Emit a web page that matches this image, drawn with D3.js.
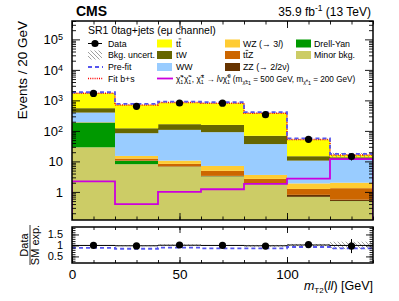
<!DOCTYPE html>
<html>
<head>
<meta charset="utf-8">
<script src="https://cdn.jsdelivr.net/npm/d3@7"></script>
<style>
  body { margin: 0; background: #fff; }
  text { font-family: "Liberation Sans", Arial, sans-serif; }
</style>
</head>
<body>
<div id="chart-area"></div>
<script>
// bin edges in mT2(ll) [GeV]
var edges = [0, 20, 40, 60, 80, 100, 120, 140];

// backgrounds (events / bin), stacked bottom -> top
var minorBkg = [29, 8.1, 6.6, 3.2, 1.8, 0.68, 0.5];
var drellYan = [158, 2.3, 0.1, 0.05, 0.02, 0.01, 0.005];
var zz       = [1.0, 0.2, 0.1, 0.1, 0.11, 0.11, 0.05];
var ttz      = [1.5, 1.8, 1.5, 1.55, 0.74, 0.45, 0.77];
var wz       = [3.5, 2.7, 2.3, 2.2, 0.93, 0.65, 0.68];
var ww       = [205, 68.9, 97.4, 83.9, 33.4, 8.7, 9.2];
var tw       = [157, 38, 58, 66, 32, 4.2, 2.5];
var ttbar    = [1167, 589, 681, 652, 311, 37.2, 2.6];

var dataObs  = [1690, 640, 820, 810, 340, 53, 14.5];
var preFit   = [1850, 770, 910, 870, 410, 57, 17.6];
var signal   = [2.2, 0.40, 1.0, 1.22, 1.83, 2.73, 11.8];
var bkgUnc   = [0.02, 0.02, 0.035, 0.02, 0.04, 0.05, 0.17];

// ratio panel
var ratioData = [1.0, 0.98, 1.02, 1.0, 0.97, 1.04, 0.97];
var ratioErr  = [0.025, 0.04, 0.035, 0.035, 0.055, 0.14, 0.32];
var ratioFit  = [1.0, 0.985, 1.01, 1.0, 0.985, 1.02, 1.0];
var ratioPre  = [0.89, 0.85, 0.90, 0.87, 0.87, 0.93, 0.87];

var yTicks = [1, 10, 100, 1000, 10000, 100000];
var xTicks = [0, 50, 100];
var rTicks = [0.5, 1, 1.5];

var keys = ['minor', 'dy', 'zz', 'ttz', 'wz', 'ww', 'tw', 'tt'];
var colors = {
  minor: '#cccc66', dy: '#009900', zz: '#663300', ttz: '#cc6600',
  wz: '#ffcc33', ww: '#99ccff', tw: '#666600', tt: '#ffff00'
};

var W = 399, H = 301;
var L = 72, R = 373, T = 21, B = 220;   // main pad
var rT = 227, rB = 263;                 // ratio pad

var svg = d3.select('#chart-area').append('svg')
  .attr('width', W).attr('height', H);

var x = d3.scaleLinear().domain([0, 140]).range([L, R]);
var y = d3.scaleLog().domain([0.12, 4e5]).range([B, T]);
var yr = d3.scaleLinear().domain([0.2, 1.84]).range([rB, rT]);

var defs = svg.append('defs');
defs.append('clipPath').attr('id', 'clipMain')
  .append('rect').attr('x', L).attr('y', T).attr('width', R - L).attr('height', B - T);
defs.append('clipPath').attr('id', 'clipRatio')
  .append('rect').attr('x', L).attr('y', rT).attr('width', R - L).attr('height', rB - rT);
var pat = defs.append('pattern').attr('id', 'hatch')
  .attr('patternUnits', 'userSpaceOnUse').attr('width', 4).attr('height', 4);
pat.append('path').attr('d', 'M-1,-1L5,5M-1,3L1,5M3,-1L5,1')
  .attr('stroke', '#888').attr('stroke-width', 0.8);

// table for stacking
var table = edges.slice(0, -1).map(function(e, i) {
  return {lo: e, hi: edges[i + 1], minor: minorBkg[i], dy: drellYan[i], zz: zz[i],
          ttz: ttz[i], wz: wz[i], ww: ww[i], tw: tw[i], tt: ttbar[i]};
});
var series = d3.stack().keys(keys)(table);
var total = table.map(function(d) { return d3.sum(keys, function(k) { return d[k]; }); });
var ymin = y.domain()[0];

var main = svg.append('g').attr('clip-path', 'url(#clipMain)');
series.forEach(function(s) {
  main.selectAll(null).data(s).enter().append('rect')
    .attr('x', function(d) { return x(d.data.lo); })
    .attr('width', function(d) { return x(d.data.hi) - x(d.data.lo) + 0.3; })
    .attr('y', function(d) { return y(Math.max(d[1], ymin)); })
    .attr('height', function(d) { return y(Math.max(d[0], ymin)) - y(Math.max(d[1], ymin)); })
    .attr('fill', colors[s.key]);
});

// bkg uncertainty band
main.selectAll(null).data(table).enter().append('rect')
  .attr('x', function(d) { return x(d.lo); })
  .attr('width', function(d) { return x(d.hi) - x(d.lo); })
  .attr('y', function(d, i) { return y(total[i] * (1 + bkgUnc[i])); })
  .attr('height', function(d, i) { return y(total[i] * (1 - bkgUnc[i])) - y(total[i] * (1 + bkgUnc[i])); })
  .attr('fill', 'url(#hatch)');

function stepPoints(vals, drop) {
  var pts = [];
  if (drop != null) pts.push([edges[0], drop]);
  vals.forEach(function(v, i) { pts.push([edges[i], v]); pts.push([edges[i + 1], v]); });
  if (drop != null) pts.push([edges[edges.length - 1], drop]);
  return pts;
}
var lineMain = d3.line().x(function(p) { return x(p[0]); }).y(function(p) { return y(Math.max(p[1], ymin)); });

main.append('path').attr('d', lineMain(stepPoints(signal, ymin)))
  .attr('fill', 'none').attr('stroke', '#cc00dd').attr('stroke-width', 1.8);
main.append('path').attr('d', lineMain(stepPoints(total)))
  .attr('fill', 'none').attr('stroke', '#ff0000').attr('stroke-width', 1.5).attr('stroke-dasharray', '1,1.2');
main.append('path').attr('d', lineMain(stepPoints(preFit)))
  .attr('fill', 'none').attr('stroke', '#5555ee').attr('stroke-width', 1.8).attr('stroke-dasharray', '4,3');

// data
var pts = main.selectAll(null).data(dataObs).enter().append('g');
pts.append('line')
  .attr('x1', function(d, i) { return x((edges[i] + edges[i + 1]) / 2); })
  .attr('x2', function(d, i) { return x((edges[i] + edges[i + 1]) / 2); })
  .attr('y1', function(d) { return y(d + Math.sqrt(d)); })
  .attr('y2', function(d) { return y(d - Math.sqrt(d)); })
  .attr('stroke', '#000').attr('stroke-width', 1);
pts.append('circle')
  .attr('cx', function(d, i) { return x((edges[i] + edges[i + 1]) / 2); })
  .attr('cy', function(d) { return y(d); })
  .attr('r', 3.6).attr('fill', '#000');

// ratio panel
var ratio = svg.append('g').attr('clip-path', 'url(#clipRatio)');
ratio.selectAll(null).data(table).enter().append('rect')
  .attr('x', function(d) { return x(d.lo); })
  .attr('width', function(d) { return x(d.hi) - x(d.lo); })
  .attr('y', function(d, i) { return yr(ratioFit[i] + bkgUnc[i]); })
  .attr('height', function(d, i) { return yr(ratioFit[i] - bkgUnc[i]) - yr(ratioFit[i] + bkgUnc[i]); })
  .attr('fill', 'url(#hatch)');
var lineRatio = d3.line().x(function(p) { return x(p[0]); }).y(function(p) { return yr(p[1]); });
ratio.append('path').attr('d', lineRatio(stepPoints(ratioFit)))
  .attr('fill', 'none').attr('stroke', '#000').attr('stroke-width', 1);
ratio.append('path').attr('d', lineRatio(stepPoints(ratioPre)))
  .attr('fill', 'none').attr('stroke', '#5555ee').attr('stroke-width', 1.8).attr('stroke-dasharray', '4,3');
var rp = ratio.selectAll(null).data(ratioData).enter().append('g');
rp.append('line')
  .attr('x1', function(d, i) { return x((edges[i] + edges[i + 1]) / 2); })
  .attr('x2', function(d, i) { return x((edges[i] + edges[i + 1]) / 2); })
  .attr('y1', function(d, i) { return yr(d + ratioErr[i]); })
  .attr('y2', function(d, i) { return yr(d - ratioErr[i]); })
  .attr('stroke', '#000').attr('stroke-width', 1);
rp.append('circle')
  .attr('cx', function(d, i) { return x((edges[i] + edges[i + 1]) / 2); })
  .attr('cy', function(d) { return yr(d); })
  .attr('r', 3.6).attr('fill', '#000');

// ticks (ROOT style, inward on all four sides)
function minorLog() {
  var v = [];
  for (var e = -1; e <= 5; e++) for (var m = 2; m <= 9; m++) {
    var t = m * Math.pow(10, e);
    if (t >= y.domain()[0] && t <= y.domain()[1]) v.push(t);
  }
  return v;
}
function tickGroup(axis, tx, ty) {
  var g = svg.append('g').attr('transform', 'translate(' + tx + ',' + ty + ')').call(axis);
  g.select('.domain').remove();
  g.selectAll('line').attr('stroke', '#000').attr('stroke-width', 0.9);
  return g;
}
var xMinor = d3.range(0, 141, 10);
// main pad
var yAxisMain = tickGroup(d3.axisLeft(y).tickValues(yTicks).tickSize(-8).tickPadding(9), L, 0);
tickGroup(d3.axisLeft(y).tickValues(minorLog()).tickSize(-4).tickFormat(''), L, 0);
tickGroup(d3.axisRight(y).tickValues(yTicks).tickSize(-8).tickFormat(''), R, 0);
tickGroup(d3.axisRight(y).tickValues(minorLog()).tickSize(-4).tickFormat(''), R, 0);
tickGroup(d3.axisBottom(x).tickValues(xTicks).tickSize(-7).tickFormat(''), 0, B);
tickGroup(d3.axisBottom(x).tickValues(xMinor).tickSize(-3.5).tickFormat(''), 0, B);
tickGroup(d3.axisTop(x).tickValues(xTicks).tickSize(-7).tickFormat(''), 0, T);
tickGroup(d3.axisTop(x).tickValues(xMinor).tickSize(-3.5).tickFormat(''), 0, T);
// ratio pad
var yAxisRatio = tickGroup(d3.axisLeft(yr).tickValues(rTicks).tickSize(-7).tickPadding(9)
  .tickFormat(function(d) { return d; }), L, 0);
tickGroup(d3.axisLeft(yr).tickValues(d3.range(0.3, 1.81, 0.1)).tickSize(-3.5).tickFormat(''), L, 0);
tickGroup(d3.axisRight(yr).tickValues(rTicks).tickSize(-7).tickFormat(''), R, 0);
tickGroup(d3.axisRight(yr).tickValues(d3.range(0.3, 1.81, 0.1)).tickSize(-3.5).tickFormat(''), R, 0);
var xAxisRatio = tickGroup(d3.axisBottom(x).tickValues(xTicks).tickSize(-6).tickPadding(6), 0, rB);
tickGroup(d3.axisBottom(x).tickValues(xMinor).tickSize(-3).tickFormat(''), 0, rB);
tickGroup(d3.axisTop(x).tickValues(xTicks).tickSize(-6).tickFormat(''), 0, rT);
tickGroup(d3.axisTop(x).tickValues(xMinor).tickSize(-3).tickFormat(''), 0, rT);

// tick labels
yAxisMain.selectAll('text')
  .attr('font-size', 13).attr('font-family', '"Liberation Sans", Arial, sans-serif').attr('fill', '#000')
  .each(function(d) {
    var t = d3.select(this);
    var e = Math.round(Math.log10(d));
    if (e >= 2) {
      t.text('10');
      t.append('tspan').attr('font-size', 9).attr('dy', '-0.45em').text(e);
    }
  });
yAxisRatio.selectAll('text').attr('font-size', 11).attr('fill', '#000')
  .attr('font-family', '"Liberation Sans", Arial, sans-serif');
xAxisRatio.selectAll('text').attr('font-size', 13.5).attr('fill', '#000')
  .attr('font-family', '"Liberation Sans", Arial, sans-serif').attr('dy', '0.71em');

// frames
svg.append('rect').attr('x', L).attr('y', T).attr('width', R - L).attr('height', B - T)
  .attr('fill', 'none').attr('stroke', '#000').attr('stroke-width', 1.5);
svg.append('rect').attr('x', L).attr('y', rT).attr('width', R - L).attr('height', rB - rT)
  .attr('fill', 'none').attr('stroke', '#000').attr('stroke-width', 1.5);

// titles
svg.append('text').attr('x', 76).attr('y', 16).attr('font-size', 14).attr('font-weight', 'bold').text('CMS');
var lumi = svg.append('text').attr('x', 371).attr('y', 16).attr('font-size', 12).attr('text-anchor', 'end');
lumi.append('tspan').text('35.9 fb');
lumi.append('tspan').attr('font-size', 8.5).attr('dy', -5).text('-1');
lumi.append('tspan').attr('dy', 5).text(' (13 TeV)');

svg.append('text').attr('transform', 'translate(27,' + T + ') rotate(-90)')
  .attr('text-anchor', 'end').attr('font-size', 13.5).text('Events / 20 GeV');

var xt = svg.append('text').attr('x', R).attr('y', 290).attr('font-size', 12.5).attr('text-anchor', 'end');
xt.append('tspan').attr('font-style', 'italic').text('m');
xt.append('tspan').attr('font-size', 8).attr('dy', 3).text('T2');
xt.append('tspan').attr('dy', -3).text('(');
xt.append('tspan').attr('font-style', 'italic').text('ll');
xt.append('tspan').text(') [GeV]');

svg.append('text').attr('transform', 'translate(28,245) rotate(-90)')
  .attr('text-anchor', 'middle').attr('font-size', 11).text('Data');
svg.append('line').attr('x1', 30).attr('x2', 30).attr('y1', 225).attr('y2', 265)
  .attr('stroke', '#000').attr('stroke-width', 0.8);
svg.append('text').attr('transform', 'translate(38.5,245) rotate(-90)')
  .attr('text-anchor', 'middle').attr('font-size', 11).text('SM exp.');

// legend
svg.append('text').attr('x', 88).attr('y', 34).attr('font-size', 10.5).text('SR1 0tag+jets  (e\u03bc channel)');
var rows = [43.5, 55, 67, 78.5];
var fs = 8.8;
var leg = svg.append('g').attr('font-size', fs);
function label(xp, row, txt) {
  return leg.append('text').attr('x', xp).attr('y', rows[row] + 3.2).text(txt);
}
function box(xp, row, fill) {
  leg.append('rect').attr('x', xp).attr('y', rows[row] - 4).attr('width', 15).attr('height', 8).attr('fill', fill);
}
function tbar(xp, row) {
  // bar over the second t of "tt"
  var w = fs * 0.278;
  leg.append('line').attr('x1', xp + w + 0.2).attr('x2', xp + 2 * w + 0.4)
    .attr('y1', rows[row] - 4.6).attr('y2', rows[row] - 4.6)
    .attr('stroke', '#000').attr('stroke-width', 0.7);
}
// col 1
leg.append('line').attr('x1', 88).attr('x2', 102).attr('y1', rows[0]).attr('y2', rows[0]).attr('stroke', '#000');
leg.append('circle').attr('cx', 95).attr('cy', rows[0]).attr('r', 3.6);
label(108, 0, 'Data');
leg.append('rect').attr('x', 88).attr('y', rows[1] - 4.5).attr('width', 14).attr('height', 9).attr('fill', 'url(#hatch)');
label(108, 1, 'Bkg. uncert.');
leg.append('line').attr('x1', 88).attr('x2', 103).attr('y1', rows[2]).attr('y2', rows[2])
  .attr('stroke', '#5555ee').attr('stroke-width', 1.8).attr('stroke-dasharray', '4,3');
label(108, 2, 'Pre-fit');
leg.append('line').attr('x1', 88).attr('x2', 103).attr('y1', rows[3]).attr('y2', rows[3])
  .attr('stroke', '#ff0000').attr('stroke-width', 1.5).attr('stroke-dasharray', '1,1.2');
label(108, 3, 'Fit b+s');
// col 2
box(157, 0, colors.tt); label(176, 0, 'tt'); tbar(176, 0);
box(157, 1, colors.tw); label(176, 1, 'tW');
box(157, 2, colors.ww); label(176, 2, 'WW');
// col 3
box(225, 0, colors.wz);
var t3 = label(243, 0, 'WZ (\u2192 3'); t3.append('tspan').attr('font-style', 'italic').text('l'); t3.append('tspan').text(')');
box(225, 1, colors.ttz); label(243, 1, 'ttZ'); tbar(243, 1);
box(225, 2, colors.zz);
var t5 = label(243, 2, 'ZZ (\u2192 2'); t5.append('tspan').attr('font-style', 'italic').text('l');
t5.append('tspan').text('2\u03bd)');
// col 4
box(296, 0, colors.dy); label(314, 0, 'Drell-Yan');
box(296, 1, colors.minor); label(314, 1, 'Minor bkg.');

// signal row
leg.append('line').attr('x1', 157).attr('x2', 173).attr('y1', rows[3]).attr('y2', rows[3])
  .attr('stroke', '#cc00dd').attr('stroke-width', 1.8);
// segments: [text, level (0 base, -1 sub, 1 sup), italic, dx]
var chi = '\u03c7\u0303';
function chiSeg(sup) { return [[chi, 0], ['1', -1], [sup, 1, false, -2.6]]; }
var segs = [].concat(
  chiSeg('+'), chiSeg('\u2212'), [[', ', 0]], chiSeg('\u00b1'),
  [[' \u2192 ', 0], ['l', 0, true], ['\u03bd', 0]], chiSeg('0'),
  [[' (m', 0], [chi + '\u00b1', -1], ['1', -2], [' = 500 GeV, m', 0], [chi + '\u2070', -1], ['1', -2],
   [' = 200 GeV)', 0]]
);
function buildSignal(size) {
  leg.select('#sigText').remove();
  var t = leg.append('text').attr('id', 'sigText').attr('x', 176).attr('y', rows[3] + 3.2)
    .attr('font-size', size);
  var level = 0;
  var shift = {0: 0, '-1': 0.25, 1: -0.4, '-2': 0.45};
  segs.forEach(function(s) {
    var target = shift[s[1]] * size;
    var ts = t.append('tspan').text(s[0])
      .attr('font-size', s[1] === 0 ? size : size * 0.65)
      .attr('dy', target - level);
    if (s[2]) ts.attr('font-style', 'italic');
    if (s[3]) ts.attr('dx', s[3] * size / 8.8);
    level = target;
  });
  return t.node().getComputedTextLength();
}
var sigLen = buildSignal(fs);
if (sigLen > 189) buildSignal(fs * 189 / sigLen);
</script>
</body>
</html>
